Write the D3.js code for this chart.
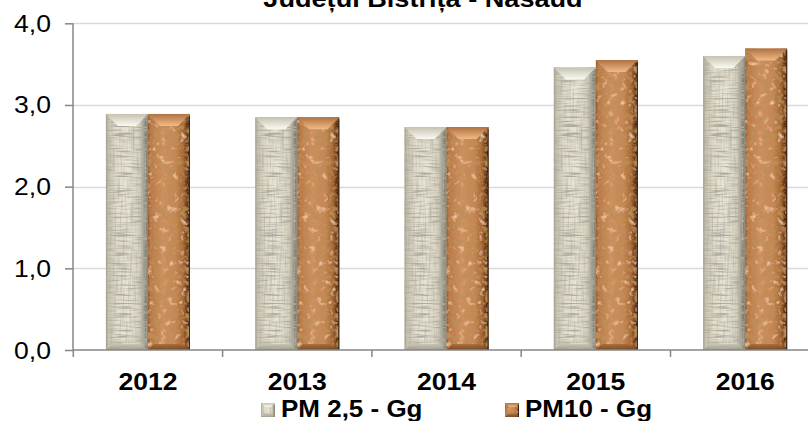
<!DOCTYPE html>
<html>
<head>
<meta charset="utf-8">
<script src="https://cdn.jsdelivr.net/npm/d3@7/dist/d3.min.js"></script>
<style>
  body { margin: 0; background: #fff; }
  svg { display: block; font-family: Arial, "Liberation Sans", sans-serif; }
</style>
</head>
<body>
<svg id="chart" width="808" height="421"></svg>
<script>
// Emissions of fine particulate matter, Bistrița-Năsăud county (Gg)
const title = "Județul Bistrița - Năsăud";
const years = ["2012", "2013", "2014", "2015", "2016"];
const seriesNames = ["PM 2,5 - Gg", "PM10 - Gg"];
const pm25 = [2.89, 2.85, 2.73, 3.46, 3.60];
const pm10 = [2.89, 2.85, 2.73, 3.55, 3.69];
const yTicks = [0, 1, 2, 3, 4];

const svg = d3.select("#chart");
const W = 808, H = 421;
const stretch = 1.13; // text is drawn slightly wide

const x = d3.scaleBand().domain(years).range([73.3, 819.8]).paddingInner(0).paddingOuter(0);
const xs = d3.scaleBand().domain(seriesNames).range([0, x.bandwidth()]).paddingInner(0).paddingOuter(0.776);
const y = d3.scaleLinear().domain([0, 4]).range([350, 23.3]);

const fmt = v => d3.format(".1f")(v).replace(".", ",");

// ---------- defs: gradients and textures ----------
const defs = svg.append("defs");

function hGrad(id, stops) {
  const g = defs.append("linearGradient").attr("id", id).attr("x1", 0).attr("x2", 1).attr("y1", 0).attr("y2", 0);
  stops.forEach(([o, c]) => g.append("stop").attr("offset", o).attr("stop-color", c));
}
function vGrad(id, stops) {
  const g = defs.append("linearGradient").attr("id", id).attr("x1", 0).attr("x2", 0).attr("y1", 0).attr("y2", 1);
  stops.forEach(([o, c, a]) => g.append("stop").attr("offset", o).attr("stop-color", c).attr("stop-opacity", a == null ? 1 : a));
}

hGrad("baseLinen", [[0, "#9f9b8a"], [0.06, "#c9c4b0"], [0.25, "#e2ddcb"], [0.55, "#e9e5d5"], [0.8, "#d6d1bd"], [0.9, "#a29e8e"], [0.96, "#7c796d"], [1, "#a8a595"]]);
hGrad("baseCork", [[0, "#8a552c"], [0.06, "#b87644"], [0.35, "#cf9260"], [0.65, "#c68754"], [0.85, "#a4652f"], [0.94, "#5e3416"], [1, "#3a200e"]]);
vGrad("topLinen", [[0, "#c6c2b0"], [1, "#fbfaf2"]]);
vGrad("topCork", [[0, "#b07242"], [1, "#f0bb86"]]);
vGrad("botLinen", [[0, "#c7c3b1"], [1, "#9b9787"]]);
vGrad("botCork", [[0, "#a76a38"], [1, "#6d4020"]]);

// linen weave: horizontal and vertical streaks of darker thread
const fl = defs.append("filter").attr("id", "linenTex").attr("x", 0).attr("y", 0).attr("width", 1).attr("height", 1);
fl.append("feTurbulence").attr("type", "fractalNoise").attr("baseFrequency", "0.05 0.6").attr("numOctaves", 2).attr("seed", 4).attr("result", "n");
fl.append("feColorMatrix").attr("in", "n").attr("type", "matrix")
  .attr("values", "0 0 0 0 0.42  0 0 0 0 0.40  0 0 0 0 0.34  3.0 0 0 0 -1.3").attr("result", "dark");
fl.append("feComposite").attr("in", "dark").attr("in2", "SourceGraphic").attr("operator", "in").attr("result", "darkIn");
fl.append("feTurbulence").attr("type", "fractalNoise").attr("baseFrequency", "0.6 0.04").attr("numOctaves", 1).attr("seed", 9).attr("result", "n2");
fl.append("feColorMatrix").attr("in", "n2").attr("type", "matrix")
  .attr("values", "0 0 0 0 0.48  0 0 0 0 0.46  0 0 0 0 0.40  2.4 0 0 0 -1.1").attr("result", "dark2");
fl.append("feComposite").attr("in", "dark2").attr("in2", "SourceGraphic").attr("operator", "in").attr("result", "dark2In");
const mlin = fl.append("feMerge");
mlin.append("feMergeNode").attr("in", "SourceGraphic");
mlin.append("feMergeNode").attr("in", "dark2In");
mlin.append("feMergeNode").attr("in", "darkIn");

// cork: dark blotches and lighter orange patches
const fc = defs.append("filter").attr("id", "corkTex").attr("x", 0).attr("y", 0).attr("width", 1).attr("height", 1);
fc.append("feTurbulence").attr("type", "fractalNoise").attr("baseFrequency", "0.15").attr("numOctaves", 3).attr("seed", 7).attr("result", "n");
fc.append("feColorMatrix").attr("in", "n").attr("type", "matrix")
  .attr("values", "0 0 0 0 0.50  0 0 0 0 0.27  0 0 0 0 0.10  3.4 0 0 0 -1.55").attr("result", "dark");
fc.append("feColorMatrix").attr("in", "n").attr("type", "matrix")
  .attr("values", "0 0 0 0 0.91  0 0 0 0 0.64  0 0 0 0 0.40  -3.0 0 0 0 1.2").attr("result", "light");
fc.append("feComposite").attr("in", "dark").attr("in2", "SourceGraphic").attr("operator", "in").attr("result", "darkIn");
fc.append("feComposite").attr("in", "light").attr("in2", "SourceGraphic").attr("operator", "in").attr("result", "lightIn");
const mc = fc.append("feMerge");
mc.append("feMergeNode").attr("in", "SourceGraphic");
mc.append("feMergeNode").attr("in", "lightIn");
mc.append("feMergeNode").attr("in", "darkIn");

const styles = {
  "PM 2,5 - Gg": { base: "url(#baseLinen)", tex: "url(#linenTex)", top: "url(#topLinen)", bot: "url(#botLinen)", edge: "#8d8a7c" },
  "PM10 - Gg": { base: "url(#baseCork)", tex: "url(#corkTex)", top: "url(#topCork)", bot: "url(#botCork)", edge: "#3e2311" }
};

// ---------- gridlines ----------
svg.append("g").selectAll("line").data(yTicks.filter(d => d > 0)).join("line")
  .attr("x1", 73).attr("x2", W).attr("y1", d => Math.round(y(d)) + 0.5).attr("y2", d => Math.round(y(d)) + 0.5)
  .attr("stroke", "#d9d9d9").attr("stroke-width", 1.5);

// ---------- bars ----------
const rows = years.map((yr, i) => ({ year: yr, values: [{ s: seriesNames[0], v: pm25[i] }, { s: seriesNames[1], v: pm10[i] }] }));

function bevelBar(g, s, bx, by, bw, bh) {
  const st = styles[s];
  g.append("rect").attr("x", bx).attr("y", by).attr("width", bw).attr("height", bh)
    .attr("fill", st.base).attr("filter", st.tex);
  const b = Math.min(12, bw / 3.5), bb = Math.min(6, bh / 4);
  g.append("polygon")
    .attr("points", [[bx, by], [bx + bw, by], [bx + bw - b, by + b], [bx + b, by + b]].map(p => p.join(",")).join(" "))
    .attr("fill", st.top);
  g.append("polygon")
    .attr("points", [[bx, by + bh], [bx + bw, by + bh], [bx + bw - bb, by + bh - bb], [bx + bb, by + bh - bb]].map(p => p.join(",")).join(" "))
    .attr("fill", st.bot).attr("opacity", 0.85);
  g.append("line").attr("x1", bx + bw - 0.5).attr("x2", bx + bw - 0.5).attr("y1", by + 2).attr("y2", by + bh)
    .attr("stroke", st.edge).attr("stroke-width", 1);
}

const groups = svg.append("g").selectAll("g").data(rows).join("g")
  .attr("transform", d => `translate(${x(d.year)},0)`);
groups.each(function (d) {
  const g = d3.select(this);
  d.values.forEach(e => {
    bevelBar(g, e.s, xs(e.s), y(e.v), xs.bandwidth(), y(0) - y(e.v));
  });
});

// ---------- axes ----------
const axisColor = "#868686";
const yAxis = svg.append("g").attr("transform", "translate(73,0)")
  .call(d3.axisLeft(y).tickValues(yTicks).tickFormat(fmt).tickSize(8).tickPadding(0));
yAxis.select(".domain").attr("stroke", axisColor).attr("stroke-width", 1.5).attr("d", `M0,${y(4)}V${y(0)}`);
yAxis.selectAll(".tick line").attr("stroke", axisColor).attr("stroke-width", 1.5);
yAxis.selectAll(".tick text").remove();
yAxis.selectAll(".tick").append("text")
  .attr("transform", `translate(-22,8) scale(${stretch},1)`)
  .attr("text-anchor", "end").attr("fill", "#000").attr("font-size", 23.5)
  .style("font-family", "Arial, 'Liberation Sans', sans-serif")
  .text(d => fmt(d));

const xAxis = svg.append("g").attr("transform", `translate(0,${y(0)})`);
xAxis.append("line").attr("x1", 73).attr("x2", W).attr("y1", 0).attr("y2", 0).attr("stroke", axisColor).attr("stroke-width", 1.5);
const tickXs = years.map(d => x(d)).concat([x(years[years.length - 1]) + x.bandwidth()]);
xAxis.selectAll("line.tk").data(tickXs.filter(v => v < W)).join("line").attr("class", "tk")
  .attr("x1", d => d).attr("x2", d => d).attr("y1", 0).attr("y2", 7).attr("stroke", axisColor).attr("stroke-width", 1.5);
xAxis.selectAll("text").data(years).join("text")
  .attr("transform", d => `translate(${x(d) + x.bandwidth() / 2},40) scale(${stretch},1)`)
  .attr("text-anchor", "middle").attr("font-size", 23.5).attr("font-weight", "bold").attr("fill", "#000")
  .text(d => d);

// ---------- title (top edge clipped by the frame) ----------
svg.append("text")
  .attr("transform", `translate(423,7) scale(${stretch},1)`)
  .attr("text-anchor", "middle").attr("font-size", 24).attr("font-weight", "bold").attr("fill", "#000")
  .text(title);

// ---------- legend ----------
const legendX = [261, 505];
const legend = svg.append("g").selectAll("g").data(seriesNames).join("g")
  .attr("transform", (d, i) => `translate(${legendX[i]},403)`);
legend.each(function (s) {
  const g = d3.select(this);
  bevelBar(g, s, 0, 0, 14, 14);
});
legend.append("text")
  .attr("transform", `translate(20,14) scale(${stretch},1)`)
  .attr("font-size", 23).attr("font-weight", "bold").attr("fill", "#000")
  .text(d => d);
</script>
</body>
</html>
